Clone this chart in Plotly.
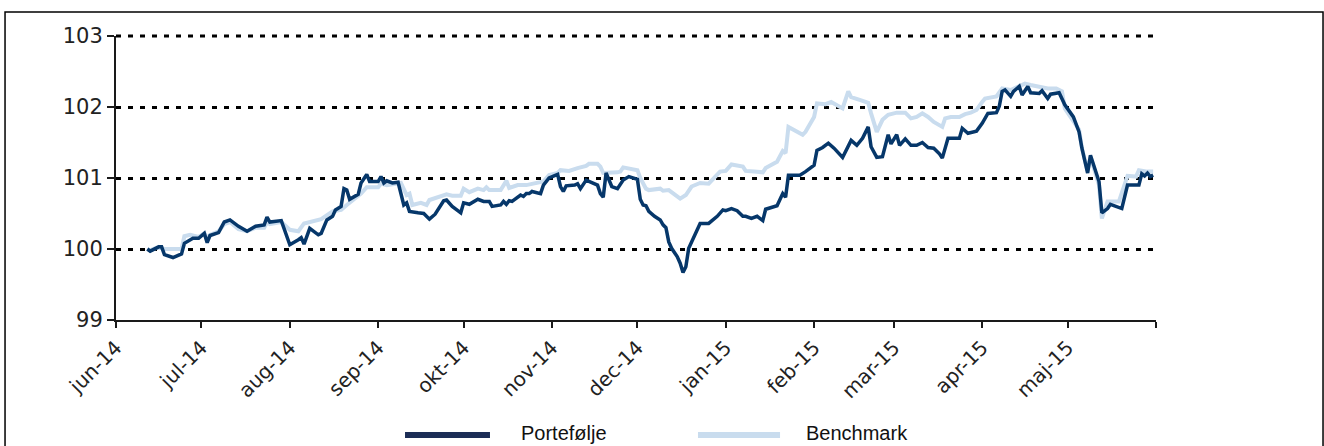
import plotly.graph_objects as go

# ---------------- data ----------------
port_dates = ["2014-06-12","2014-06-13","2014-06-16","2014-06-17","2014-06-18","2014-06-21","2014-06-24","2014-06-25","2014-06-28","2014-06-30",
"2014-07-02","2014-07-03","2014-07-04","2014-07-07","2014-07-09","2014-07-11","2014-07-14","2014-07-17","2014-07-20","2014-07-23","2014-07-24","2014-07-25","2014-07-29",
"2014-08-01","2014-08-04","2014-08-05","2014-08-06","2014-08-08","2014-08-11","2014-08-12","2014-08-14","2014-08-16","2014-08-17","2014-08-19","2014-08-20","2014-08-21","2014-08-22","2014-08-25","2014-08-26","2014-08-28","2014-08-29",
"2014-09-01","2014-09-02","2014-09-03","2014-09-04","2014-09-05","2014-09-06","2014-09-08","2014-09-10","2014-09-11","2014-09-12","2014-09-15","2014-09-17","2014-09-19","2014-09-21","2014-09-24","2014-09-25","2014-09-27","2014-09-30",
"2014-10-01","2014-10-03","2014-10-06","2014-10-08","2014-10-10","2014-10-11","2014-10-14","2014-10-15","2014-10-16","2014-10-17","2014-10-18","2014-10-21","2014-10-22","2014-10-23","2014-10-24","2014-10-25","2014-10-28","2014-10-29","2014-10-31",
"2014-11-03","2014-11-04","2014-11-05","2014-11-06","2014-11-09","2014-11-10","2014-11-11","2014-11-13","2014-11-15","2014-11-17","2014-11-18","2014-11-19","2014-11-20","2014-11-22","2014-11-24","2014-11-26","2014-11-28",
"2014-12-01","2014-12-02","2014-12-03","2014-12-04","2014-12-05","2014-12-07","2014-12-09","2014-12-10","2014-12-11","2014-12-12","2014-12-13","2014-12-15","2014-12-16","2014-12-17","2014-12-18","2014-12-19","2014-12-21","2014-12-23","2014-12-26","2014-12-29","2014-12-31",
"2015-01-01","2015-01-03","2015-01-05","2015-01-07","2015-01-08","2015-01-10","2015-01-12","2015-01-14","2015-01-15","2015-01-19","2015-01-20","2015-01-21","2015-01-22","2015-01-23","2015-01-27","2015-01-29",
"2015-02-01","2015-02-02","2015-02-04","2015-02-06","2015-02-08","2015-02-11","2015-02-14","2015-02-16","2015-02-18","2015-02-20","2015-02-21","2015-02-23","2015-02-25","2015-02-27","2015-02-28",
"2015-03-02","2015-03-03","2015-03-05","2015-03-07","2015-03-09","2015-03-11","2015-03-13","2015-03-15","2015-03-17","2015-03-18","2015-03-20","2015-03-24","2015-03-25","2015-03-27","2015-03-30",
"2015-04-01","2015-04-03","2015-04-06","2015-04-07","2015-04-08","2015-04-09","2015-04-11","2015-04-12","2015-04-14","2015-04-15","2015-04-17","2015-04-18","2015-04-21","2015-04-22","2015-04-24","2015-04-25","2015-04-28","2015-04-30",
"2015-05-03","2015-05-05","2015-05-06","2015-05-08","2015-05-09","2015-05-11","2015-05-12","2015-05-13","2015-05-15","2015-05-16","2015-05-20","2015-05-22","2015-05-26","2015-05-27","2015-05-28","2015-05-29","2015-05-30","2015-05-31"]
port_values = [100.00,99.97,100.03,100.03,99.92,99.88,99.93,100.08,100.15,100.15,
100.22,100.09,100.19,100.23,100.38,100.41,100.32,100.25,100.32,100.34,100.45,100.38,100.40,
100.06,100.13,100.16,100.07,100.29,100.20,100.22,100.41,100.46,100.55,100.60,100.85,100.83,100.70,100.77,100.93,101.05,100.95,
100.95,101.02,100.93,100.96,100.95,100.93,100.94,100.62,100.65,100.53,100.51,100.50,100.42,100.49,100.68,100.69,100.60,100.51,
100.65,100.63,100.70,100.67,100.67,100.60,100.62,100.67,100.63,100.68,100.67,100.76,100.74,100.78,100.78,100.81,100.78,100.90,101.00,
101.05,100.88,100.81,100.89,100.90,100.92,100.85,100.97,100.94,100.90,100.78,100.73,101.07,100.88,100.85,100.97,101.02,
100.98,100.70,100.62,100.61,100.53,100.46,100.41,100.34,100.30,100.10,100.01,99.89,99.80,99.67,99.75,100.01,100.20,100.36,100.36,100.46,100.55,
100.54,100.57,100.54,100.46,100.46,100.43,100.46,100.40,100.56,100.61,100.69,100.78,100.73,101.04,101.04,101.09,
101.18,101.39,101.43,101.49,101.42,101.29,101.53,101.46,101.56,101.72,101.44,101.29,101.30,101.61,101.48,
101.61,101.46,101.55,101.46,101.46,101.50,101.43,101.42,101.34,101.28,101.56,101.56,101.70,101.63,101.66,
101.77,101.91,101.92,102.01,102.22,102.24,102.15,102.22,102.29,102.17,102.29,102.20,102.19,102.23,102.12,102.18,102.20,102.03,
101.86,101.65,101.42,101.07,101.32,101.07,100.95,100.51,100.57,100.63,100.57,100.90,100.90,101.06,101.03,101.07,101.02,101.04]

bench_dates = ["2014-06-12","2014-06-13","2014-06-16","2014-06-17","2014-06-18","2014-06-21","2014-06-24","2014-06-25","2014-06-27","2014-06-30",
"2014-07-02","2014-07-03","2014-07-04","2014-07-07","2014-07-09","2014-07-11","2014-07-14","2014-07-17","2014-07-20","2014-07-23","2014-07-24","2014-07-25","2014-07-29",
"2014-08-01","2014-08-04","2014-08-06","2014-08-12","2014-08-16","2014-08-19","2014-08-21","2014-08-23","2014-08-26","2014-08-28",
"2014-09-01","2014-09-02","2014-09-04","2014-09-09","2014-09-11","2014-09-12","2014-09-13","2014-09-16","2014-09-18","2014-09-19","2014-09-23","2014-09-25","2014-09-27","2014-09-30",
"2014-10-01","2014-10-03","2014-10-06","2014-10-08","2014-10-09","2014-10-10","2014-10-14","2014-10-16","2014-10-17","2014-10-20","2014-10-23","2014-10-27","2014-10-29","2014-10-31",
"2014-11-03","2014-11-04","2014-11-07","2014-11-10","2014-11-13","2014-11-14","2014-11-17","2014-11-18","2014-11-19","2014-11-24","2014-11-25","2014-11-26","2014-11-27","2014-11-29",
"2014-12-01","2014-12-02","2014-12-04","2014-12-05","2014-12-09","2014-12-10","2014-12-12","2014-12-16","2014-12-18","2014-12-20","2014-12-23","2014-12-26","2014-12-30",
"2015-01-01","2015-01-03","2015-01-07","2015-01-08","2015-01-11","2015-01-14","2015-01-15","2015-01-19","2015-01-21","2015-01-22","2015-01-23","2015-01-26","2015-01-28","2015-01-29",
"2015-02-01","2015-02-02","2015-02-05","2015-02-07","2015-02-08","2015-02-11","2015-02-13","2015-02-14","2015-02-17","2015-02-20","2015-02-21","2015-02-23","2015-02-25","2015-02-27",
"2015-03-02","2015-03-05","2015-03-07","2015-03-09","2015-03-11","2015-03-13","2015-03-15","2015-03-18","2015-03-19","2015-03-21","2015-03-24","2015-03-26","2015-03-28","2015-03-30",
"2015-04-01","2015-04-02","2015-04-06","2015-04-08","2015-04-11","2015-04-14","2015-04-16","2015-04-18","2015-04-21","2015-04-24","2015-04-27","2015-04-29","2015-04-30",
"2015-05-02","2015-05-05","2015-05-06","2015-05-08","2015-05-09","2015-05-11","2015-05-12","2015-05-13","2015-05-15","2015-05-19","2015-05-20","2015-05-22","2015-05-25","2015-05-26","2015-05-29","2015-05-31"]
bench_values = [100.00,99.98,100.03,100.02,100.00,100.00,100.00,100.18,100.20,100.17,
100.22,100.15,100.20,100.25,100.35,100.38,100.28,100.25,100.30,100.30,100.38,100.35,100.38,
100.27,100.25,100.36,100.42,100.53,100.55,100.62,100.69,100.78,100.87,
100.87,100.92,100.90,100.93,100.76,100.78,100.62,100.65,100.62,100.69,100.74,100.77,100.75,100.75,
100.85,100.80,100.85,100.83,100.87,100.83,100.83,100.96,100.86,100.90,100.90,100.93,100.95,101.04,
101.07,101.11,101.10,101.14,101.17,101.20,101.20,101.16,101.07,101.08,101.09,101.15,101.14,101.12,
101.11,101.00,100.85,100.83,100.85,100.82,100.83,100.71,100.76,100.88,100.93,100.92,101.09,
101.10,101.19,101.16,101.10,101.09,101.08,101.14,101.23,101.38,101.35,101.72,101.66,101.61,101.65,
101.86,102.05,102.04,102.07,102.05,101.98,102.22,102.14,102.10,102.06,101.91,101.65,101.82,101.89,
101.92,101.92,101.84,101.86,101.91,101.86,101.79,101.72,101.84,101.86,101.86,101.90,101.92,101.96,
102.07,102.12,102.15,102.26,102.24,102.29,102.33,102.31,102.29,102.26,102.26,102.22,101.98,
101.86,101.68,101.42,101.10,101.30,101.05,100.90,100.43,100.67,100.67,100.78,101.03,101.02,101.11,101.09,101.09]

tick_dates = ["2014-06-01","2014-07-01","2014-08-01","2014-09-01","2014-10-01","2014-11-01",
              "2014-12-01","2015-01-01","2015-02-01","2015-03-01","2015-04-01","2015-05-01","2015-06-01"]
tick_labels = ["jun-14","jul-14","aug-14","sep-14","okt-14","nov-14",
               "dec-14","jan-15","feb-15","mar-15","apr-15","maj-15",""]
y_ticks = [99, 100, 101, 102, 103]
series_names = ["Portefølje", "Benchmark"]

# ---------------- styling ----------------
PORT_COLOR = "#06376a"
BENCH_COLOR = "#c9dcee"
AXIS_COLOR = "#1a1a1a"
GRID_DASH = "5px,7px"

fig = go.Figure()
fig.add_trace(go.Scatter(x=bench_dates, y=bench_values, mode="lines", name=series_names[1],
                         line=dict(color=BENCH_COLOR, width=4), showlegend=False))
fig.add_trace(go.Scatter(x=port_dates, y=port_values, mode="lines", name=series_names[0],
                         line=dict(color=PORT_COLOR, width=3.5), showlegend=False))

fig.update_xaxes(type="date", range=["2014-06-01", "2015-06-01"],
                 tickmode="array", tickvals=tick_dates, ticktext=tick_labels,
                 tickangle=-45, ticks="outside", ticklen=6, tickwidth=2, tickcolor=AXIS_COLOR,
                 showline=True, linecolor=AXIS_COLOR, linewidth=2, showgrid=False, zeroline=False,
                 tickfont=dict(family="DejaVu Sans", size=20, color="#222222"))
fig.update_yaxes(range=[99, 103], tickmode="array", tickvals=y_ticks,
                 ticks="outside", ticklen=7, tickwidth=2, tickcolor=AXIS_COLOR,
                 showline=True, linecolor=AXIS_COLOR, linewidth=2, zeroline=False,
                 showgrid=True, gridcolor="#000000", gridwidth=3, griddash=GRID_DASH,
                 tickfont=dict(family="DejaVu Sans", size=21, color="#222222"))

# dotted grid line at the top edge of the range (plotly omits the edge grid line)
fig.add_shape(type="line", xref="paper", yref="paper", x0=0, x1=1, y0=1, y1=1,
              line=dict(color="#000000", width=3, dash=GRID_DASH), layer="below")

# outer frame
fig.add_shape(type="rect", xref="paper", yref="paper", x0=-0.1067, x1=1.1606, y0=-0.5, y1=1.0845,
              line=dict(color="#000000", width=1.5), fillcolor="rgba(0,0,0,0)", layer="above")

# custom legend (long swatches as in the reference)
legend_y = -0.405
text_y = -0.398
fig.add_shape(type="line", xref="paper", yref="paper", x0=0.2779, x1=0.3596, y0=legend_y, y1=legend_y,
              line=dict(color="#1c2d56", width=6))
fig.add_shape(type="line", xref="paper", yref="paper", x0=0.5596, x1=0.6385, y0=legend_y, y1=legend_y,
              line=dict(color=BENCH_COLOR, width=6))
fig.add_annotation(xref="paper", yref="paper", x=0.3875, y=text_y, text=series_names[0],
                   showarrow=False, xanchor="left", yanchor="middle",
                   font=dict(family="Liberation Sans", size=20, color="#111111"))
fig.add_annotation(xref="paper", yref="paper", x=0.6615, y=text_y, text=series_names[1],
                   showarrow=False, xanchor="left", yanchor="middle",
                   font=dict(family="Liberation Sans", size=20, color="#111111"))

fig.update_layout(width=1324, height=446, margin=dict(l=116, r=168, t=36, b=126),
                  paper_bgcolor="white", plot_bgcolor="white", showlegend=False)

fig.write_html("out.html")
